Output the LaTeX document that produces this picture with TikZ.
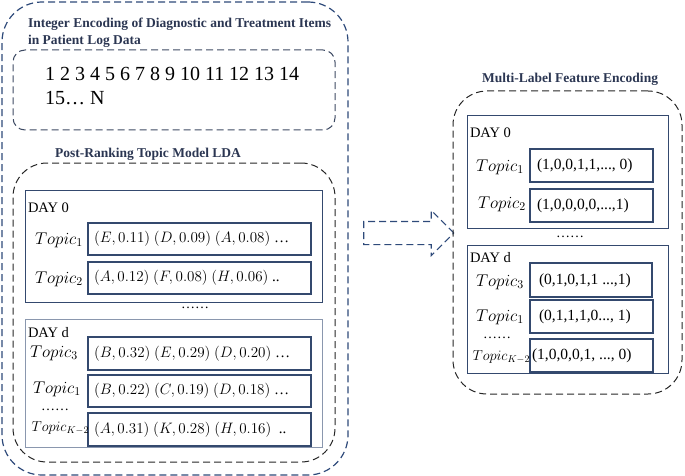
\RequirePackage{fix-cm}
\documentclass[tikz,border=0pt]{standalone}
\usepackage{fontspec}
\setmainfont{Liberation Serif}
\usetikzlibrary{shapes.arrows}
\definecolor{navy}{HTML}{2E4A7A}
\definecolor{boxblue}{HTML}{34496E}
\definecolor{titlec}{HTML}{2B3652}
\definecolor{lightedge}{HTML}{8A97AE}
\definecolor{grayedge}{HTML}{3D4A63}
\begin{document}
\begin{tikzpicture}[x=1pt,y=-1pt,
  every node/.style={inner sep=0pt, outer sep=0pt},
  dashbox/.style={dash pattern=on 7pt off 4pt, line width=1pt},
  outerbox/.style={dashbox, draw=navy, line width=1.2pt, rounded corners=40pt},
  groupbox/.style={dashbox, draw=black!85, rounded corners=34pt},
  listbox/.style={dashbox, draw=grayedge, rounded corners=12pt},
  daybox/.style={draw=boxblue, line width=1pt},
  rowbox/.style={draw=boxblue, line width=1.1pt},
  titletxt/.style={font=\bfseries\fontsize{13.5}{17}\selectfont, text=titlec},
  daytxt/.style={font=\fontsize{14.5}{16}\selectfont, anchor=west},
  topictxt/.style={font=\fontsize{17}{19}\selectfont},
  ktopictxt/.style={font=\fontsize{14.4}{17}\selectfont, anchor=east},
  rowtxt/.style={font=\fontsize{15.1}{17}\selectfont, anchor=west},
  rrowtxt/.style={font=\fontsize{15.5}{17}\selectfont, anchor=west},
  dotstxt/.style={font=\fontsize{14}{14}\selectfont, text height=2pt, text depth=0pt}
]
\useasboundingbox (0,0) rectangle (685,476);

% ---------- left outer container ----------
\node (outerL) [outerbox, minimum width=346pt, minimum height=473pt] at (175,238.5) {};

\node (t1) [titletxt, align=left, anchor=north west] at (28,18)
  {Integer Encoding of Diagnostic and Treatment Items\\in Patient Log Data};
\node (listbox) [listbox, minimum width=322pt, minimum height=80pt] at (174,90) {};
\node (nums) [font=\fontsize{20}{24}\selectfont, align=left, anchor=north west] at (45,67)
  {1 2 3 4 5 6 7 8 9 10 11 12 13 14\\15\ldots\ N};

\node (t2) [titletxt] at (148,154) {Post-Ranking Topic Model LDA};
\node (lda) [groupbox, minimum width=322pt, minimum height=299pt] at (174,312.5) {};

% Day 0 (left)
\node (day0L) [daybox, minimum width=297pt, minimum height=112pt] at (173.5,246) {};
\node (d0Ltxt) [daytxt] at (28,208) {DAY 0};
\node (L0a) [rowbox, minimum width=223pt, minimum height=32pt] at (199.5,239) {};
\node (L0b) [rowbox, minimum width=223pt, minimum height=32pt] at (199.5,278) {};
\node (L0at) [topictxt] at (59,240) {$Topic_1$};
\node (L0bt) [topictxt] at (59,279) {$Topic_2$};
\node (L0ar) [rowtxt] at (94,239) {$(E,0.11)$ $(D,0.09)$ $(A,0.08)$ \ldots};
\node (L0br) [rowtxt] at (94,278) {$(A,0.12)$ $(F,0.08)$ $(H,0.06)$ ..};
\node (dotsL) [dotstxt] at (195,307) {\ldots\ldots};

% Day d (left)
\node (daydL) [draw=lightedge, line width=1pt, minimum width=297pt, minimum height=128pt] at (173.5,383) {};
\node (ddLtxt) [daytxt] at (28,333) {DAY d};
\node (Lda) [rowbox, minimum width=223pt, minimum height=33pt] at (199.5,353.5) {};
\node (Ldb) [rowbox, minimum width=223pt, minimum height=32pt] at (199.5,391) {};
\node (Ldc) [rowbox, minimum width=223pt, minimum height=33pt] at (199.5,429.5) {};
\node (Ldat) [topictxt] at (54,353) {$Topic_3$};
\node (Ldbt) [topictxt] at (57,389) {$Topic_1$};
\node (Lddots) [dotstxt] at (55,409) {\ldots\ldots};
\node (Ldct) [ktopictxt] at (89,428) {$Topic_{K-2}$};
\node (Ldar) [rowtxt] at (94,353.5) {$(B,0.32)$ $(E,0.29)$ $(D,0.20)$ \ldots};
\node (Ldbr) [rowtxt] at (94,391) {$(B,0.22)$ $(C,0.19)$ $(D,0.18)$ \ldots};
\node (Ldcr) [rowtxt] at (94,429.5) {$(A,0.31)$ $(K,0.28)$ $(H,0.16)$\ \ ..};

% ---------- arrow ----------
\node (arrow) [single arrow, draw=navy, dashbox, line width=1.1pt,
  single arrow head extend=11pt, shape border rotate=0,
  inner xsep=0pt, inner ysep=11pt, minimum height=90pt] at (403,233) {};

% ---------- right container ----------
\node (t3) [titletxt] at (570,79) {Multi-Label Feature Encoding};
\node (outerR) [groupbox, minimum width=229pt, minimum height=303pt] at (567.5,242.5) {};

% Day 0 (right)
\node (day0R) [daybox, minimum width=201pt, minimum height=112pt] at (567.5,172) {};
\node (d0Rtxt) [daytxt] at (470,133) {DAY 0};
\node (R0a) [rowbox, minimum width=123pt, minimum height=33pt] at (591.5,165.5) {};
\node (R0b) [rowbox, minimum width=123pt, minimum height=33pt] at (591.5,205.5) {};
\node (R0at) [topictxt] at (500,167) {$Topic_1$};
\node (R0bt) [topictxt] at (502,204) {$Topic_2$};
\node (R0ar) [rrowtxt] at (537,165.5) {(1,0,0,1,1,..., 0)};
\node (R0br) [rrowtxt] at (537,205.5) {(1,0,0,0,0,...,1)};
\node (dotsR) [dotstxt] at (570,236) {\ldots\ldots};

% Day d (right)
\node (daydR) [daybox, minimum width=201pt, minimum height=128pt] at (567.5,309) {};
\node (ddRtxt) [daytxt] at (470,258) {DAY d};
\node (Rda) [rowbox, minimum width=122pt, minimum height=34pt] at (591,280) {};
\node (Rdb) [rowbox, minimum width=123pt, minimum height=33pt] at (591.5,316.5) {};
\node (Rdc) [rowbox, minimum width=123pt, minimum height=33pt] at (591.5,355.5) {};
\node (Rdat) [topictxt] at (500,282) {$Topic_3$};
\node (Rdbt) [topictxt] at (500,317) {$Topic_1$};
\node (Rddots) [dotstxt] at (497,337) {\ldots\ldots};
\node (Rdct) [ktopictxt] at (530,357) {$Topic_{K-2}$};
\node (Rdar) [rrowtxt] at (539,281) {(0,1,0,1,1 ...,1)};
\node (Rdbr) [rrowtxt] at (539,317) {(0,1,1,1,0..., 1)};
\node (Rdcr) [rrowtxt] at (532,356) {(1,0,0,0,1, ..., 0)};
\end{tikzpicture}
\end{document}
